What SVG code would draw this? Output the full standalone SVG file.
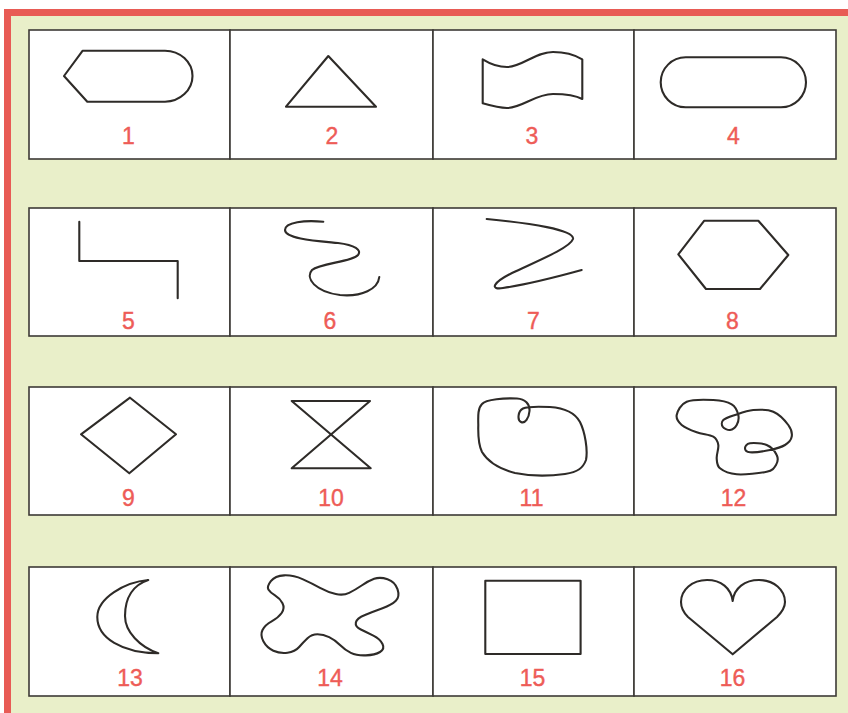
<svg xmlns="http://www.w3.org/2000/svg" width="848" height="713" viewBox="0 0 848 713">
<style>
.cell{fill:#ffffff;stroke:#3d3a36;stroke-width:1.6}
.shp{fill:none;stroke:#2e2b28;stroke-width:2.1;stroke-linejoin:round;stroke-linecap:round}
.lbl{font-family:"Liberation Sans",Arial,sans-serif;font-size:23px;fill:#ee5c57;stroke:#ee5c57;stroke-width:0.4;text-anchor:middle}
</style>
<rect x="0" y="0" width="848" height="713" fill="#ffffff"/>
<rect x="4" y="9" width="844" height="704" fill="#e9efc9"/>
<rect x="4" y="9" width="844" height="7" fill="#e85b55"/>
<rect x="4" y="9" width="7" height="704" fill="#e85b55"/>

<g id="cell-1">
<rect class="cell" x="29" y="30" width="201" height="129"/>
<path class="shp" d="M64,76 L82.7,50.7 L165,50.7 C180,50.7 192.5,62 192.5,76 C192.5,90 180,101.7 165,101.7 L87.3,101.7 Z"/>
<text class="lbl" x="128.5" y="143.5">1</text>
</g>
<g id="cell-2">
<rect class="cell" x="230" y="30" width="203" height="129"/>
<path class="shp" d="M328.3,56 L376,106.7 L286,106.7 Z"/>
<text class="lbl" x="332" y="143.5">2</text>
</g>
<g id="cell-3">
<rect class="cell" x="433" y="30" width="201" height="129"/>
<path class="shp" d="M482.7,59.3 C492,65 500,67 507,67 C522,67 535,52 553,52 C565,52 575,55 582.3,59.3 L582.3,99 C575,95 565,94 553,94 C535,94 522,108 507,108 C500,108 492,106 482.7,103.3 Z"/>
<text class="lbl" x="532" y="143.5">3</text>
</g>
<g id="cell-4">
<rect class="cell" x="634" y="30" width="202" height="129"/>
<rect class="shp" x="660.7" y="57.3" width="145.3" height="50" rx="25" ry="25"/>
<text class="lbl" x="733.5" y="143.5">4</text>
</g>

<g id="cell-5">
<rect class="cell" x="29" y="208" width="201" height="128"/>
<path class="shp" d="M79.3,221.7 L79.3,261 L177.7,261 L177.7,298.3" stroke-linecap="butt"/>
<text class="lbl" x="128.5" y="329">5</text>
</g>
<g id="cell-6">
<rect class="cell" x="230" y="208" width="203" height="128"/>
<path class="shp" d="M323.3,221.7 C305,220 285,222 285,230 C285,239 318,241 338,243 C355,245 362,250 358,255 C352,262 320,263 312,270 C305,278 315,292 340,295 C362,297 378,289 379.3,277"/>
<text class="lbl" x="330" y="329">6</text>
</g>
<g id="cell-7">
<rect class="cell" x="433" y="208" width="201" height="128"/>
<path class="shp" d="M486.7,219 C530,223 575,230 573,239 C570,248 535,262 512,273 C492,283 490,290 503,288 C530,284 560,276 581.7,270"/>
<text class="lbl" x="533.5" y="329">7</text>
</g>
<g id="cell-8">
<rect class="cell" x="634" y="208" width="202" height="128"/>
<path class="shp" d="M678.3,254.3 L704.3,220.7 L758.3,220.7 L788.3,255 L760,289 L706,289 Z"/>
<text class="lbl" x="732.5" y="329">8</text>
</g>

<g id="cell-9">
<rect class="cell" x="29" y="387" width="201" height="128"/>
<path class="shp" d="M130,397.7 L176,434.3 L129.3,473.3 L81,434.3 Z"/>
<text class="lbl" x="128.5" y="505.5">9</text>
</g>
<g id="cell-10">
<rect class="cell" x="230" y="387" width="203" height="128"/>
<path class="shp" d="M291.7,401 L370,401 L291.7,468.3 L370.7,468.3 Z"/>
<text class="lbl" x="331" y="505.5">10</text>
</g>
<g id="cell-11">
<rect class="cell" x="433" y="387" width="201" height="128"/>
<path class="shp" d="M478.3,425 C478,415 478,408 482,404 C486,399 505,398 517,398.5 C525,399 530,404 529.5,411 C529,418 525,424 521,422 C517,420 518,411 523,408.5 C528,406 540,406.5 550,407 C565,408 575,413 580,422 C585,432 588,450 586,460 C583,468 578,472 565,474 C550,476 530,476 515,473 C500,469 488,462 482,452 C478,444 478,435 478.3,425 Z"/>
<text class="lbl" x="531.5" y="505.5">11</text>
</g>
<g id="cell-12">
<rect class="cell" x="634" y="387" width="202" height="128"/>
<path class="shp" d="M676.7,415 C677.5,411.1 680.6,404.2 686.7,401.7 C692.8,399.2 705.8,399.6 713.3,400 C720.8,400.4 727.5,401.8 731.7,404.3 C735.9,406.8 737.5,411.6 738.3,415 C739.1,418.5 738.1,422.5 736.7,425 C735.3,427.5 732.3,429.7 730,430 C727.7,430.3 723.8,428.4 722.7,426.7 C721.6,425 721.3,422 723.3,420 C725.4,418.1 730,416.7 735,415 C740,413.3 746.9,410.6 753.3,410 C759.7,409.5 767.5,409.2 773.3,411.7 C779.1,414.2 785.2,420.8 788.3,425 C791.4,429.2 792.3,433.4 791.7,436.7 C791.2,440 788.6,442.8 785,445 C781.4,447.2 775.8,448.8 770,450 C764.2,451.2 754.2,452.6 750,452.3 C745.8,452 745,449.8 745,448.3 C745,446.8 746.4,443.9 750,443.3 C753.6,442.8 762.3,443.1 766.7,445 C771.2,447 775.2,451.7 776.7,455 C778.3,458.3 777.7,462.2 776,465 C774.3,467.8 773.3,470.2 766.7,471.7 C760.2,473.3 744.5,474.9 736.7,474.3 C728.9,473.7 723.3,471 720,468.3 C716.7,465.6 717,462.2 716.7,458.3 C716.4,454.4 718.9,448.6 718.3,445 C717.7,441.4 716.9,438.8 713.3,436.7 C709.7,434.6 702,434.3 696.7,432.3 C691.4,430.4 685,427.9 681.7,425 C678.4,422.1 675.9,418.9 676.7,415 Z"/>
<text class="lbl" x="733.5" y="505.5">12</text>
</g>

<g id="cell-13">
<rect class="cell" x="29" y="567" width="201" height="129"/>
<path class="shp" d="M148.3,580 C125,582 97.3,598 97.3,617 C97.3,638 122,653 158.3,653.3 C140,647 125,632 125,616 C125,598 133,585 148.3,580 Z"/>
<text class="lbl" x="130" y="685.5">13</text>
</g>
<g id="cell-14">
<rect class="cell" x="230" y="567" width="203" height="129"/>
<path class="shp" d="M268.35,589.5 Q266.7,586.7 270.85,581.2 Q275,575.7 284.15,575.35 Q293.3,575 302.5,579.15 Q311.7,583.3 320,587.8 Q328.3,592.3 335.8,594 Q343.3,595.7 349.15,592.85 Q355,590 361.65,585.5 Q368.3,581 374.15,578.85 Q380,576.7 387.5,579.2 Q395,581.7 397.5,589.2 Q400,596.7 395.85,600.85 Q391.7,605 382.5,608.35 Q373.3,611.7 365,615 Q356.7,618.3 355.85,622.5 Q355,626.7 360.85,629.5 Q366.7,632.3 373.35,635.65 Q380,639 382.5,644 Q385,649 380,652 Q375,655 365.85,655.35 Q356.7,655.7 350.85,652.85 Q345,650 340,645 Q335,640 329.15,637.15 Q323.3,634.3 317.5,634.3 Q311.7,634.3 307.5,638.3 Q303.3,642.3 299.15,647 Q295,651.7 287.5,652.7 Q280,653.7 273.35,650.7 Q266.7,647.7 263.35,641.35 Q260,635 262.5,630 Q265,625 271.65,621.35 Q278.3,617.7 281.65,613 Q285,608.3 282.5,603.3 Q280,598.3 275,595.3 Q270,592.3 268.35,589.5 Z"/>
<text class="lbl" x="330" y="685.5">14</text>
</g>
<g id="cell-15">
<rect class="cell" x="433" y="567" width="201" height="129"/>
<rect class="shp" x="485.3" y="580.7" width="95.3" height="73.3" stroke-linejoin="miter"/>
<text class="lbl" x="532.5" y="685.5">15</text>
</g>
<g id="cell-16">
<rect class="cell" x="634" y="567" width="202" height="129"/>
<path class="shp" d="M732.7,601 C731,588 721,580 707,580 C692,580 681,590 681,602 C681,608 683,612 688,617 L732.7,654.3 L777,617 C782,612 785,608 785,602 C785,590 774,580 759,580 C745,580 734,588 732.7,601 Z"/>
<text class="lbl" x="732.5" y="685.5">16</text>
</g>
</svg>
